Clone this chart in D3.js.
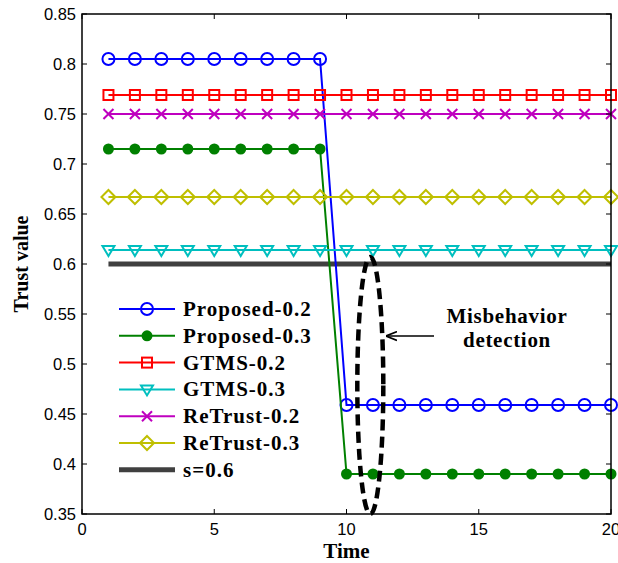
<!DOCTYPE html>
<html>
<head>
<meta charset="utf-8">
<script src="https://cdn.jsdelivr.net/npm/d3@7"></script>
<style>
  body { margin: 0; background: #fff; }
  svg { display: block; }
</style>
</head>
<body>
<svg width="618" height="563"></svg>
<script>
// data
var time = d3.range(1, 21);
var proposed02 = [0.805,0.805,0.805,0.805,0.805,0.805,0.805,0.805,0.805,0.459,0.459,0.459,0.459,0.459,0.459,0.459,0.459,0.459,0.459,0.459];
var proposed03 = [0.715,0.715,0.715,0.715,0.715,0.715,0.715,0.715,0.715,0.39,0.39,0.39,0.39,0.39,0.39,0.39,0.39,0.39,0.39,0.39];
var gtms02 = [0.769,0.769,0.769,0.769,0.769,0.769,0.769,0.769,0.769,0.769,0.769,0.769,0.769,0.769,0.769,0.769,0.769,0.769,0.769,0.769];
var gtms03 = [0.614,0.614,0.614,0.614,0.614,0.614,0.614,0.614,0.614,0.614,0.614,0.614,0.614,0.614,0.614,0.614,0.614,0.614,0.614,0.614];
var retrust02 = [0.75,0.75,0.75,0.75,0.75,0.75,0.75,0.75,0.75,0.75,0.75,0.75,0.75,0.75,0.75,0.75,0.75,0.75,0.75,0.75];
var retrust03 = [0.667,0.667,0.667,0.667,0.667,0.667,0.667,0.667,0.667,0.667,0.667,0.667,0.667,0.667,0.667,0.667,0.667,0.667,0.667,0.667];
var threshold = 0.6;
var xTicks = [0, 5, 10, 15, 20];
var yTicks = [0.35, 0.4, 0.45, 0.5, 0.55, 0.6, 0.65, 0.7, 0.75, 0.8, 0.85];

var series = [
  { name: "Proposed-0.2", values: proposed02, color: "#0000ff", marker: "circle" },
  { name: "Proposed-0.3", values: proposed03, color: "#008000", marker: "dot" },
  { name: "GTMS-0.2", values: gtms02, color: "#ff0000", marker: "square" },
  { name: "GTMS-0.3", values: gtms03, color: "#00bfbf", marker: "triangle" },
  { name: "ReTrust-0.2", values: retrust02, color: "#bf00bf", marker: "x" },
  { name: "ReTrust-0.3", values: retrust03, color: "#bfbf00", marker: "diamond" }
];

var svg = d3.select("svg");
var margin = { left: 82, right: 7, top: 14, bottom: 49 };
var width = 618, height = 563;

var x = d3.scaleLinear().domain([0, 20]).range([margin.left, width - margin.right]);
var y = d3.scaleLinear().domain([0.35, 0.85]).range([height - margin.bottom, margin.top]);

var plot = svg.append("g");

// threshold line
plot.append("line")
  .attr("x1", x(1)).attr("x2", x(20))
  .attr("y1", y(threshold)).attr("y2", y(threshold))
  .attr("stroke", "#404040").attr("stroke-width", 5);

function drawMarker(g, type, color) {
  if (type === "circle") {
    g.append("circle").attr("r", 6).attr("fill", "none").attr("stroke", color).attr("stroke-width", 2);
  } else if (type === "dot") {
    g.append("circle").attr("r", 5.5).attr("fill", color);
  } else if (type === "square") {
    g.append("rect").attr("x", -5).attr("y", -5).attr("width", 10).attr("height", 10)
      .attr("fill", "none").attr("stroke", color).attr("stroke-width", 2);
  } else if (type === "triangle") {
    g.append("path").attr("d", "M-6,-4L6,-4L0,6Z")
      .attr("fill", "none").attr("stroke", color).attr("stroke-width", 2);
  } else if (type === "x") {
    g.append("path").attr("d", "M-5,-5L5,5M-5,5L5,-5")
      .attr("stroke", color).attr("stroke-width", 2);
  } else if (type === "diamond") {
    g.append("path").attr("d", "M0,-7L7,0L0,7L-7,0Z")
      .attr("fill", "none").attr("stroke", color).attr("stroke-width", 2);
  }
}

var line = d3.line()
  .x(function(d, i) { return x(time[i]); })
  .y(function(d) { return y(d); });

series.forEach(function(s) {
  var g = plot.append("g");
  g.append("path")
    .attr("d", line(s.values))
    .attr("fill", "none")
    .attr("stroke", s.color)
    .attr("stroke-width", 2);
  s.values.forEach(function(v, i) {
    var m = g.append("g").attr("transform", "translate(" + x(time[i]) + "," + y(v) + ")");
    drawMarker(m, s.marker, s.color);
  });
});

// dashed ellipse round the drop
var ex = x(10.9), eTop = y(0.607), eBot = y(0.35);
plot.append("ellipse")
  .attr("cx", ex).attr("cy", (eTop + eBot) / 2)
  .attr("rx", 13).attr("ry", (eBot - eTop) / 2)
  .attr("fill", "none")
  .attr("stroke", "#000")
  .attr("stroke-width", 4.5)
  .attr("stroke-dasharray", "11,6");

// annotation
svg.append("defs").append("marker")
  .attr("id", "arrow")
  .attr("viewBox", "0 0 10 10")
  .attr("refX", 10).attr("refY", 5)
  .attr("markerWidth", 11).attr("markerHeight", 11)
  .attr("markerUnits", "userSpaceOnUse")
  .attr("orient", "auto")
  .append("path")
  .attr("d", "M0,1L10,5L0,9")
  .attr("fill", "none").attr("stroke", "#000").attr("stroke-width", 1.5);

svg.append("line")
  .attr("x1", 434).attr("y1", y(0.528))
  .attr("x2", 386).attr("y2", y(0.528))
  .attr("stroke", "#000").attr("stroke-width", 1.3)
  .attr("marker-end", "url(#arrow)");

var note = svg.append("text")
  .attr("text-anchor", "middle")
  .attr("font-family", "Liberation Serif, Times New Roman, serif")
  .attr("font-weight", "bold")
  .attr("font-size", 21)
  .attr("letter-spacing", 0.7);
note.append("tspan").attr("x", 507).attr("y", 323).text("Misbehavior");
note.append("tspan").attr("x", 507).attr("y", 347).text("detection");

// frame and ticks
var frame = svg.append("g").attr("stroke", "#000").attr("stroke-width", 1.5);
frame.append("rect")
  .attr("x", x(0)).attr("y", y(0.85))
  .attr("width", x(20) - x(0)).attr("height", y(0.35) - y(0.85))
  .attr("fill", "none");
var tl = 5;
yTicks.forEach(function(t) {
  frame.append("line").attr("x1", x(0)).attr("x2", x(0) + tl).attr("y1", y(t)).attr("y2", y(t)).attr("stroke-width", 1);
  frame.append("line").attr("x1", x(20)).attr("x2", x(20) - tl).attr("y1", y(t)).attr("y2", y(t)).attr("stroke-width", 1);
});
xTicks.forEach(function(t) {
  frame.append("line").attr("x1", x(t)).attr("x2", x(t)).attr("y1", y(0.35)).attr("y2", y(0.35) - tl).attr("stroke-width", 1);
  frame.append("line").attr("x1", x(t)).attr("x2", x(t)).attr("y1", y(0.85)).attr("y2", y(0.85) + tl).attr("stroke-width", 1);
});

var tickFont = "Liberation Sans, Arial, Helvetica, sans-serif";
svg.append("g").selectAll("text")
  .data(yTicks).enter().append("text")
  .attr("x", x(0) - 6)
  .attr("y", function(d) { return y(d) + 5.5; })
  .attr("text-anchor", "end")
  .attr("font-family", tickFont)
  .attr("font-size", 16.5)
  .text(function(d) { return d3.format("")(d); });

svg.append("g").selectAll("text")
  .data(xTicks).enter().append("text")
  .attr("x", function(d) { return x(d); })
  .attr("y", y(0.35) + 21)
  .attr("text-anchor", "middle")
  .attr("font-family", tickFont)
  .attr("font-size", 16.5)
  .text(function(d) { return d; });

var labelFont = "Liberation Serif, Times New Roman, serif";
svg.append("text")
  .attr("x", (x(0) + x(20)) / 2)
  .attr("y", 558)
  .attr("text-anchor", "middle")
  .attr("font-family", labelFont)
  .attr("font-weight", "bold")
  .attr("font-size", 21)
  .text("Time");

svg.append("text")
  .attr("transform", "translate(28," + (y(0.6)) + ") rotate(-90)")
  .attr("text-anchor", "middle")
  .attr("font-family", labelFont)
  .attr("font-weight", "bold")
  .attr("font-size", 20)
  .text("Trust value");

// legend
var legendItems = series.concat([{ name: "s=0.6", color: "#404040", marker: "thick" }]);
var legend = svg.append("g").attr("transform", "translate(119,309)");
legendItems.forEach(function(s, i) {
  var row = legend.append("g").attr("transform", "translate(0," + (i * 26.8) + ")");
  row.append("line")
    .attr("x1", 0).attr("x2", 56)
    .attr("stroke", s.color)
    .attr("stroke-width", s.marker === "thick" ? 5 : 2);
  if (s.marker !== "thick") {
    var m = row.append("g").attr("transform", "translate(28,0)");
    drawMarker(m, s.marker, s.color);
  }
  row.append("text")
    .attr("x", 64).attr("y", 7)
    .attr("font-family", labelFont)
    .attr("font-weight", "bold")
    .attr("font-size", 21)
    .attr("letter-spacing", 1)
    .text(s.name);
});
</script>
</body>
</html>
